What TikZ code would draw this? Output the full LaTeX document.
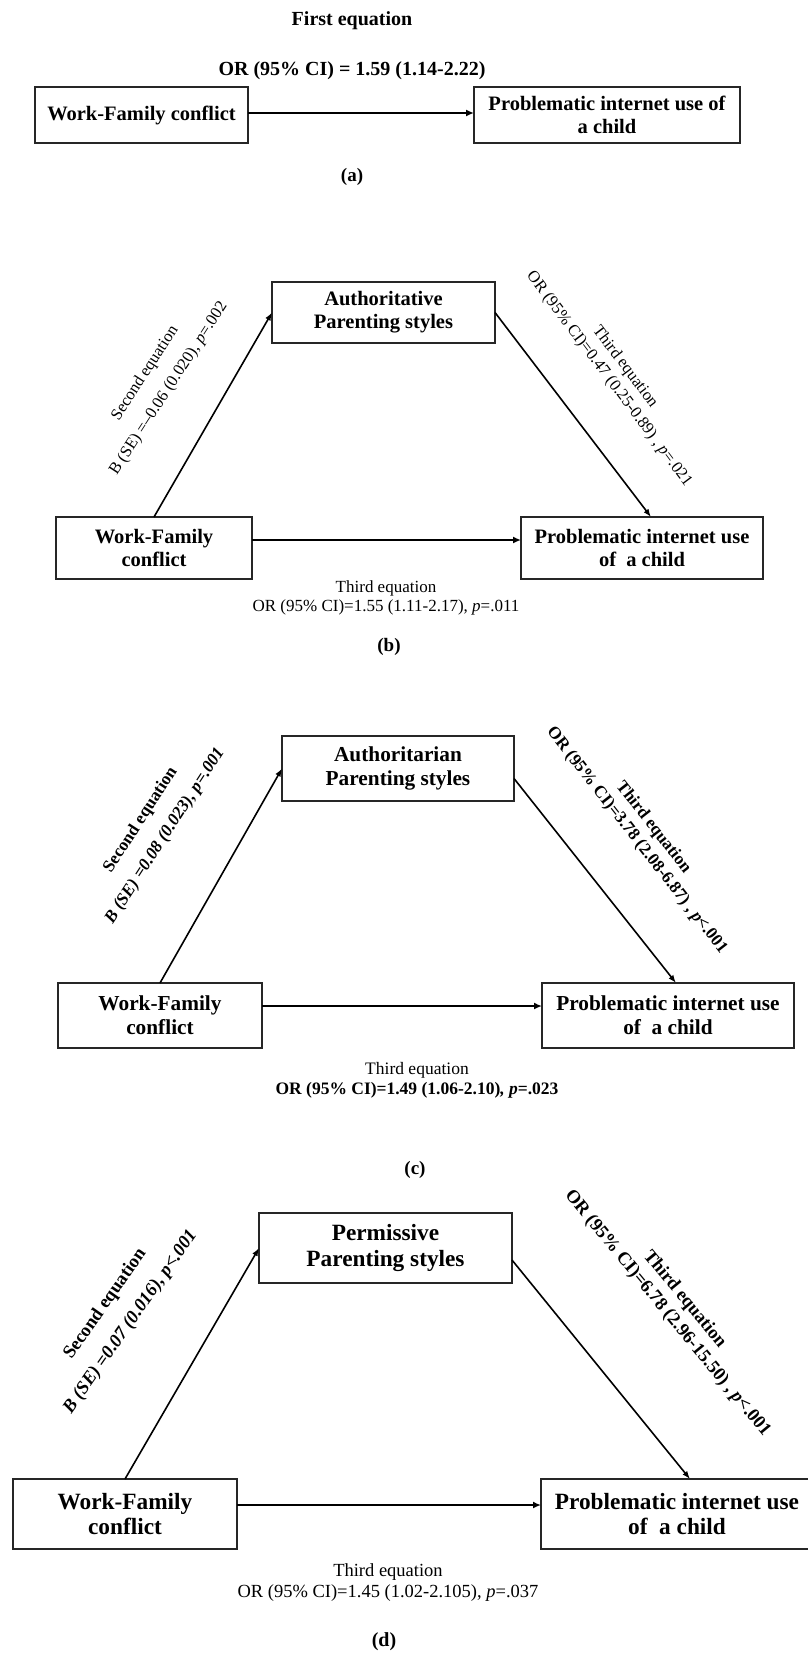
\documentclass[tikz,border=0pt]{standalone}
\usepackage{fontspec}
\setmainfont{Liberation Serif}
\usetikzlibrary{arrows.meta}
\newcommand\setfs[2]{\fontsize{#1}{#2}\selectfont}
\tikzset{
  box/.style={draw=black!85, line width=1.2pt, inner sep=0pt, outer sep=0pt, align=center},
  harr/.style={line width=2.2pt, -{Latex[length=8pt,width=7pt]}},
  darr/.style={line width=1.6pt, -{Latex[length=8pt,width=6pt]}},
  txt/.style={inner sep=0pt, align=center}
}
\begin{document}
\begin{tikzpicture}[x=1pt,y=-1pt]
\useasboundingbox (0,0) rectangle (808,1657);
\fill[white] (0,0) rectangle (808,1657);

% ---------- (a)
\node[txt, font=\bfseries\setfs{20}{24}] (a1) at (352,21) {First equation};
\node[txt, font=\bfseries\setfs{20}{24}] (a2) at (352,71) {OR (95\% CI) = 1.59 (1.14-2.22)};
\node[box, minimum width=213pt, minimum height=56pt, font=\bfseries\setfs{20.5}{23}] (aL) at (141.5,115) {Work-Family conflict};
\node[box, minimum width=266pt, minimum height=56pt, font=\bfseries\setfs{20.5}{23}] (aR) at (607,115) {Problematic internet use of\\a child};
\draw[harr] ([yshift=2pt]aL.east) -- ([yshift=2pt]aR.west);
\node[txt, font=\bfseries\setfs{19}{22}] (alab) at (352,177) {(a)};

% ---------- (b)
\node[box, minimum width=223pt, minimum height=61pt, font=\bfseries\setfs{20.5}{23}] (bT) at (383.5,312.5) {Authoritative\\Parenting styles};
\node[box, minimum width=196pt, minimum height=62pt, font=\bfseries\setfs{20.5}{23}] (bL) at (154,548) {Work-Family\\conflict};
\node[box, minimum width=242pt, minimum height=62pt, font=\bfseries\setfs{20.5}{23}] (bR) at (642,548) {Problematic internet use\\of\ \ a child};
\draw[harr] ([yshift=8pt]bL.east) -- ([yshift=8pt]bR.west);
\draw[darr] (bL.north) -- (bT.west);
\draw[darr] (bT.east) -- ([xshift=9pt]bR.north);
\node[txt, rotate=57, font=\setfs{16.5}{20}] (bSL) at (157,381) {Second equation\\[8pt]B (SE) =–0.06 (0.020), \textit{p}=.002};
\node[txt, rotate=-53, font=\setfs{16.5}{20}] (bSR) at (617,373) {Third equation\\OR (95\% CI)=0.47 (0.25-0.89) , \textit{p}=.021};
\node[txt, font=\setfs{17}{19}] (bB) at (386,597.5) {Third equation\\OR (95\% CI)=1.55 (1.11-2.17), \textit{p}=.011};
\node[txt, font=\bfseries\setfs{19}{22}] (blab) at (389,647) {(b)};

% ---------- (c)
\node[box, minimum width=232pt, minimum height=65pt, font=\bfseries\setfs{21.3}{24}] (cT) at (398,768.5) {Authoritarian\\Parenting styles};
\node[box, minimum width=204pt, minimum height=65pt, font=\bfseries\setfs{21.3}{24}] (cL) at (160,1015.5) {Work-Family\\conflict};
\node[box, minimum width=252pt, minimum height=65pt, font=\bfseries\setfs{21.3}{24}] (cR) at (668,1015.5) {Problematic internet use\\of\ \ a child};
\draw[harr] ([yshift=9.5pt]cL.east) -- ([yshift=9.5pt]cR.west);
\draw[darr] (cL.north) -- (cT.west);
\draw[darr] ([yshift=-10pt]cT.east) -- ([xshift=8pt]cR.north);
\node[txt, rotate=57, font=\bfseries\setfs{17.3}{21}] (cSL) at (153,828) {Second equation\\[8pt]\textit{B (SE) =0.08 (0.023), p=.001}};
\node[txt, rotate=-52, font=\bfseries\setfs{17.2}{21}] (cSR) at (645,834) {Third equation\\OR (95\% CI)=3.78 (2.08-6.87) , \textit{p}<.001};
\node[txt, font=\setfs{17.5}{20}] (cB) at (417,1080) {Third equation\\\textbf{OR (95\% CI)=1.49 (1.06-2.10)\textit{, p}=.023}};
\node[txt, font=\bfseries\setfs{19}{22}] (clab) at (415,1170) {(c)};

% ---------- (d)
\node[box, minimum width=253pt, minimum height=70pt, font=\bfseries\setfs{23.3}{25.5}] (dT) at (385.5,1248) {Permissive\\Parenting styles};
\node[box, minimum width=224pt, minimum height=70pt, font=\bfseries\setfs{23.3}{25.5}] (dL) at (125,1514) {Work-Family\\conflict};
\node[box, minimum width=272pt, minimum height=70pt, font=\bfseries\setfs{23.3}{25.5}] (dR) at (677,1514) {Problematic internet use\\of\ \ a child};
\draw[harr] ([yshift=9pt]dL.east) -- ([yshift=9pt]dR.west);
\draw[darr] (dL.north) -- (dT.west);
\draw[darr] ([yshift=-12pt]dT.east) -- ([xshift=13pt]dR.north);
\node[txt, rotate=55, font=\bfseries\setfs{18.5}{22}] (dSL) at (118,1313) {Second equation\\[9pt]\textit{B (SE) =0.07 (0.016), p<.001}};
\node[txt, rotate=-50.5, font=\bfseries\setfs{18.5}{22}] (dSR) at (676,1306.5) {Third equation\\OR (95\% CI)=6.78 (2.96-15.50) , \textit{p}<.001};
\node[txt, font=\setfs{18.5}{21}] (dB) at (388,1582.5) {Third equation\\OR (95\% CI)=1.45 (1.02-2.105), \textit{p}=.037};
\node[txt, font=\bfseries\setfs{20}{23}] (dlab) at (384,1642) {(d)};
\end{tikzpicture}
\end{document}
